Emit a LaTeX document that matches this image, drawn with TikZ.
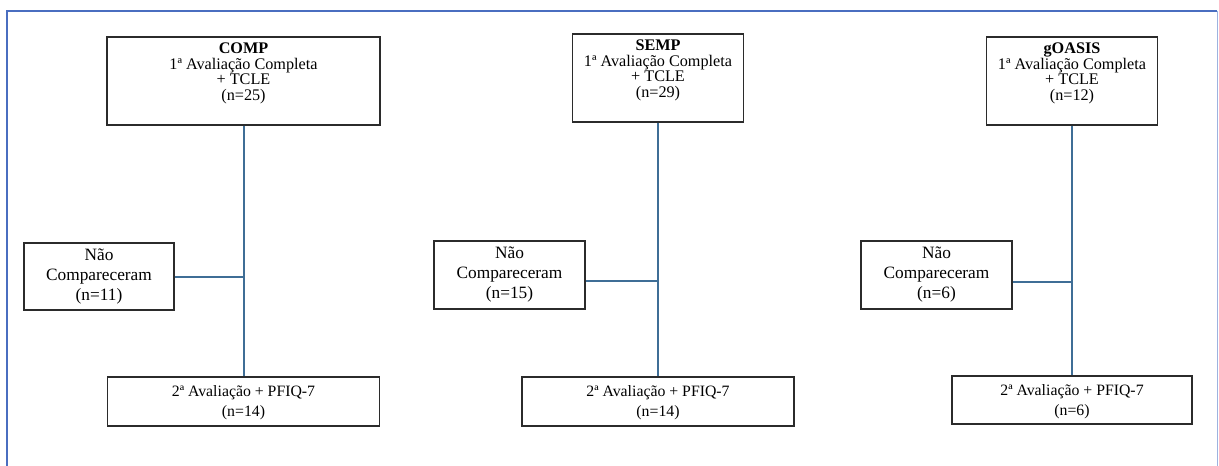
\documentclass[tikz,border=0pt]{standalone}
\usepackage{fontspec}
\setmainfont{Liberation Serif}
\definecolor{frameblue}{HTML}{4A6EC0}
\definecolor{frameside}{HTML}{9DB3E0}
\definecolor{linkblue}{HTML}{3F6E96}
\definecolor{boxgray}{HTML}{2B2B2B}
\tikzset{
  box/.style={draw=boxgray, line width=1.4pt, inner sep=0pt, fill=white},
  toptext/.style={align=center, font=\fontsize{16.2}{15.6}\selectfont, inner sep=0pt},
  nctext/.style={align=center, font=\fontsize{17.3}{20}\selectfont, inner sep=0pt},
  bottext/.style={align=center, font=\fontsize{15.8}{20}\selectfont, inner sep=0pt},
  link/.style={draw=linkblue, line width=2pt},
}
\AtBeginDocument{\lineskiplimit=-20pt\relax}
\begin{document}
\begin{tikzpicture}[x=1pt,y=-1pt]
\useasboundingbox (0,0) rectangle (1219,466);
% frame
\draw[frameblue, line width=2.8pt] (7,470) -- (7,11) -- (1217,11);
\draw[frameside, line width=1.2pt] (1217.5,11) -- (1217.5,470);

% ---------- COMP ----------
\node[box, minimum width=273pt, minimum height=88pt] (t1) at (243.5,81) {};
\node[toptext] (t1txt) at (243.5,73.5) {\textbf{COMP}\\1ª Avaliação Completa\\+ TCLE\\(n=25)};
\node[box, minimum width=150pt, minimum height=67pt] (n1) at (99,276.5) {};
\node[nctext] (n1txt) at (n1.center) {Não\\Compareceram\\(n=11)};
\node[box, minimum width=272pt, minimum height=49pt] (b1) at (243.5,401.5) {};
\node[bottext] (b1txt) at (243.5,403) {2ª Avaliação + PFIQ-7\\(n=14)};
\coordinate (j1) at (t1.south |- n1.east);
\draw[link] (t1.south) -- (t1.south |- b1.north);
\draw[link] (n1.east) -- (j1);

% ---------- SEMP ----------
\node[box, minimum width=171pt, minimum height=88pt] (t2) at (658,78) {};
\node[toptext] (t2txt) at (658,70.5) {\textbf{SEMP}\\1ª Avaliação Completa\\+ TCLE\\(n=29)};
\node[box, minimum width=151pt, minimum height=68pt] (n2) at (509.5,275) {};
\node[nctext] (n2txt) at (n2.center) {Não\\Compareceram\\(n=15)};
\node[box, minimum width=272pt, minimum height=49pt] (b2) at (658,401.5) {};
\node[bottext] (b2txt) at (658,403) {2ª Avaliação + PFIQ-7\\(n=14)};
\coordinate (j2) at ([yshift=-6pt]t2.south |- n2.east);
\draw[link] (t2.south) -- (t2.south |- b2.north);
\draw[link] (n2.east |- j2) -- (j2);

% ---------- gOASIS ----------
\node[box, minimum width=171pt, minimum height=88pt] (t3) at (1072,81) {};
\node[toptext] (t3txt) at (1072,73.5) {\textbf{gOASIS}\\1ª Avaliação Completa\\+ TCLE\\(n=12)};
\node[box, minimum width=151pt, minimum height=68pt] (n3) at (936.5,275) {};
\node[nctext] (n3txt) at (n3.center) {Não\\Compareceram\\(n=6)};
\node[box, minimum width=240pt, minimum height=48pt] (b3) at (1072,400) {};
\node[bottext] (b3txt) at (1072,401.5) {2ª Avaliação + PFIQ-7\\(n=6)};
\coordinate (j3) at ([yshift=-7pt]t3.south |- n3.east);
\draw[link] (t3.south) -- (t3.south |- b3.north);
\draw[link] (n3.east |- j3) -- (j3);
\end{tikzpicture}
\end{document}
